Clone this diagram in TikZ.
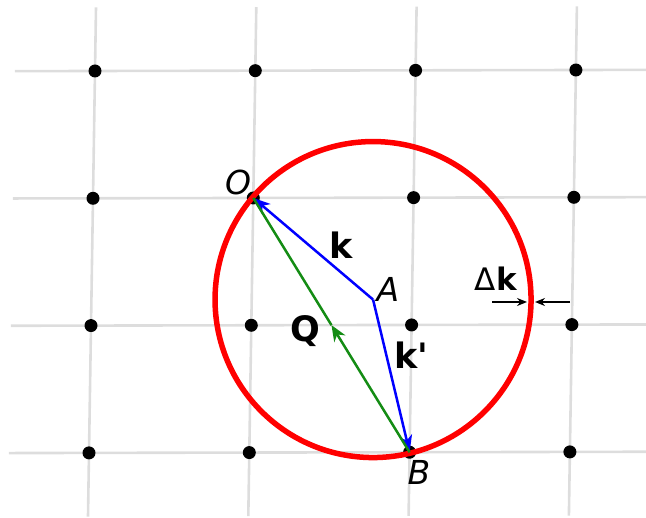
\documentclass[tikz,border=0pt]{standalone}
\usepackage{fontspec}
\setmainfont{DejaVu Sans}
\usetikzlibrary{arrows.meta,calc}
\definecolor{gridgray}{RGB}{221,221,221}
\definecolor{qgreen}{RGB}{20,140,20}
\tikzset{
    gridline/.style={gridgray, line width=2.6pt},
    ewald/.style={red, line width=5.5pt},
    kvec/.style={blue, line width=2.5pt, -{Stealth[length=17pt,width=13pt,inset=5pt]}},
    qvec/.style={qgreen, line width=2.5pt},
    ptlabel/.style={inner sep=0pt, font=\fontsize{33}{33}\selectfont\itshape},
    veclabel/.style={inner sep=0pt, font=\fontsize{35}{35}\selectfont\bfseries},
    dkarrow/.style={line width=1.5pt, -{Stealth[length=10pt,width=8pt]}}
}
\begin{document}
\begin{tikzpicture}[x=1pt,y=-1pt]
    \useasboundingbox (0,0) rectangle (646,518);
    \clip (0,0) rectangle (646,518);

    % Lattice (slightly rotated)
    \begin{scope}[shift={(95pt,-71pt)}, x={(160.3pt,0.33pt)}, y={(-2pt,-127.3pt)}]
        \foreach \i in {0,...,3} {
            \draw[gridline] (-0.5,\i) -- (3.5,\i);
            \draw[gridline] (\i,-0.5) -- (\i,3.5);
        }
        \foreach \i in {0,...,3}
            \foreach \j in {0,...,3}
                \fill (\i,\j) circle (6.5pt);
        \coordinate (O) at (1,1);
        \coordinate (B) at (2,3);
        \coordinate (A) at (1.757,1.8);
    \end{scope}

    % Ewald circle
    \draw[ewald] (A) circle (158pt);

    % Wave vectors
    \draw[kvec] (A) -- (O);
    \draw[kvec] (A) -- (B);
    \coordinate (Qmid) at ($(B)!0.5!(O)$);
    \draw[qvec] (Qmid) -- (O);
    \draw[qvec, -{Stealth[length=16pt,width=13pt,inset=5pt]}] (B) -- (Qmid);

    % Labels
    \node[ptlabel] (labO) at (238,182) {O};
    \node[ptlabel] (labA) at (388,289) {A};
    \node[ptlabel] (labB) at (419,472) {B};
    \node[veclabel] (labk) at (341,245) {k};
    \node[veclabel] (labQ) at (305,331) {Q};
    \node[veclabel] (labkp) at (411,355) {k\textquotesingle};

    % Shell thickness
    \node[inner sep=0pt, font=\fontsize{31}{31}\selectfont] (labdk) at (496,279) {Δ\textbf{k}};
    \coordinate (dkL) at (492,302);
    \coordinate (rimL) at (527,302);
    \coordinate (dkR) at (570,302);
    \coordinate (rimR) at (535,302);
    \draw[dkarrow] (dkL) -- (rimL);
    \draw[dkarrow] (dkR) -- (rimR);
\end{tikzpicture}
\end{document}
